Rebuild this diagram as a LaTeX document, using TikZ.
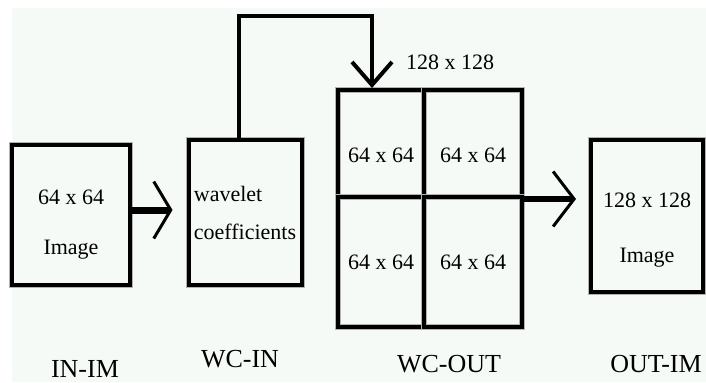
\documentclass[tikz,border=0pt]{standalone}
\usepackage{fontspec}
\setmainfont{Liberation Serif}
\usetikzlibrary{arrows.meta}
\usepackage{xcolor}
\definecolor{paper}{RGB}{245,250,247}

\begin{document}
\begin{tikzpicture}[x=0.5pt,y=-0.5pt]
        % ================= styles =================
        \tikzset{
            % framed blocks: black edge with a grey halo
            block/.style={draw=black, line width=2pt, fill=paper, inner sep=0pt,
                preaction={draw=gray!60, line width=3pt},
                align=center, font=\fontsize{11}{25}\selectfont},
            % one quarter of the 128 x 128 grid
            cell/.style={block, fill=none, font=\fontsize{11}{13}\selectfont},
            % plain captions
            caption/.style={font=\fontsize{13}{15}\selectfont, inner sep=0pt},
            small/.style={font=\fontsize{11}{13}\selectfont, inner sep=0pt},
            % connectors
            fat/.style={line width=3.5pt, -{Straight Barb[length=8.5pt, width=28.5pt, line width=1.5pt 0]}},
            wide/.style={line width=3pt, -{Straight Barb[length=10.5pt, width=27.5pt, line width=1.5pt 0]}},
            link/.style={line width=2pt, -{Straight Barb[length=11.5pt, width=20pt, line width=2pt 0]}}
        }

        % ================= background =================
        \useasboundingbox (0,0) rectangle (706,382);
        \fill[white] (0,0) rectangle (706,382);
        \fill[paper] (12,8) rectangle (706,382);

        % ================= blocks =================
        % IN-IM (the strut pushes the two lines a bit lower)
        \node[block, minimum width=59pt, minimum height=70pt] (inim) at (71,215)
              {\rule{0pt}{17pt}64 x 64\\Image};

        % WC-IN
        \node[block, minimum width=56.5pt, minimum height=72.5pt,
              font=\fontsize{11}{19}\selectfont, align=left] (wcin) at (245,212.5)
              {wavelet\\coefficients};

        % WC-OUT: four cells of 64 x 64
        \node[cell, minimum width=43pt, minimum height=53.5pt, text height=19pt] (c11) at (381,143.5) {64 x 64};
        \node[cell, minimum width=49pt, minimum height=53.5pt, text height=19pt] (c12) at (473,143.5) {64 x 64};
        \node[cell, minimum width=43pt, minimum height=65pt]   (c21) at (381,262)   {64 x 64};
        \node[cell, minimum width=49pt, minimum height=65pt]   (c22) at (473,262)   {64 x 64};
        \node[small] (size) at (450,62) {128 x 128};

        % OUT-IM
        \node[block, minimum width=56pt, minimum height=76pt,
              font=\fontsize{11}{27.5}\selectfont] (outim) at (647,216)
              {\rule{0pt}{21.5pt}128 x 128\\Image};

        % ================= captions =================
        \node[caption] (inimcap)  at (85,369)  {IN-IM};
        \node[caption] (wcincap)  at (240,359) {WC-IN};
        \node[caption] (wcoutcap) at (449,364) {WC-OUT};
        \node[caption] (outimcap) at (656,364) {OUT-IM};

        % ================= connectors =================
        \coordinate (bend) at (372,16);
        \draw[link] ([xshift=-3pt]wcin.north) |- (bend) -- (bend |- c11.north);
        \draw[fat] ([yshift=2.5pt]inim.east) -- ([xshift=-7pt,yshift=2.5pt]inim.east -| wcin.west);
        \draw[wide] (c12.south east) -- ([xshift=-6.5pt]c12.south east -| outim.west);

    \end{tikzpicture}
\end{document}
